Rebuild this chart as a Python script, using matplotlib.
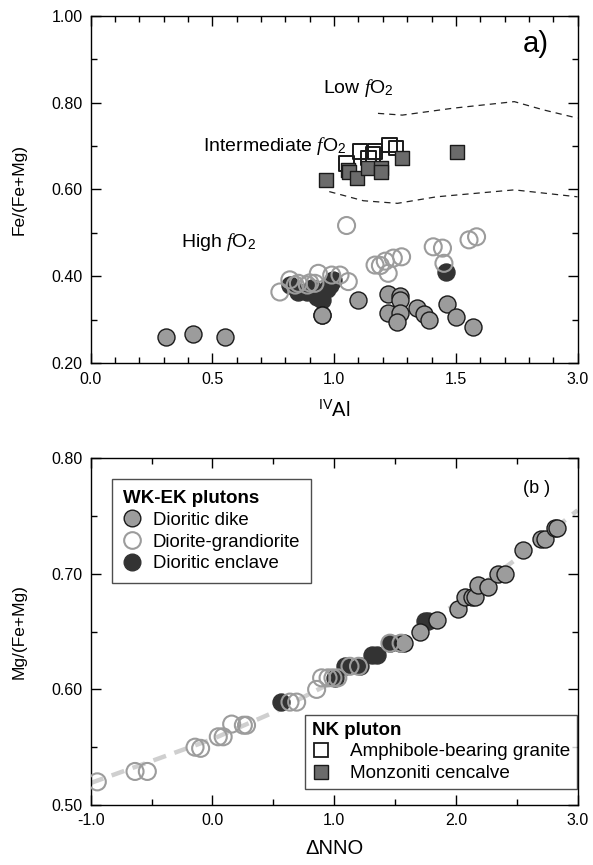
import numpy as np
import matplotlib
matplotlib.use("Agg")
import matplotlib.pyplot as plt
from matplotlib.lines import Line2D
from matplotlib.ticker import MultipleLocator, FixedLocator, FixedFormatter

plt.rcParams['font.family'] = ['Liberation Sans', 'DejaVu Sans']
plt.rcParams['axes.unicode_minus'] = False
plt.rcParams['mathtext.fontset'] = 'custom'
plt.rcParams['mathtext.rm'] = 'Liberation Sans'
plt.rcParams['mathtext.it'] = 'Liberation Serif:italic'

# ---- panel a : IVAl vs Fe/(Fe+Mg) ----
# Diorite dike (grey filled)
dike_al = [0.31, 0.42, 0.55, 0.95, 0.951, 1.10, 1.22, 1.27, 1.27, 1.22, 1.27, 1.26,
           1.34, 1.37, 1.39, 1.465, 1.50, 1.57]
dike_fe = [0.260, 0.267, 0.260, 0.311, 0.311, 0.346, 0.360, 0.355, 0.345, 0.315, 0.315, 0.296,
           0.327, 0.313, 0.300, 0.336, 0.306, 0.283]
# Diorite-granodiorite (open grey)
dgr_al = [0.777, 0.818, 0.84, 0.853, 0.89, 0.90, 0.921, 0.935, 0.99, 1.024, 1.058, 1.051,
          1.168, 1.19, 1.21, 1.222, 1.243, 1.277, 1.407, 1.445, 1.451, 1.554, 1.585]
dgr_fe = [0.364, 0.392, 0.38, 0.384, 0.38, 0.385, 0.384, 0.407, 0.403, 0.403, 0.388, 0.517,
          0.426, 0.425, 0.435, 0.407, 0.442, 0.445, 0.468, 0.465, 0.430, 0.484, 0.491]
# Dioritic enclave (dark filled)
enc_al = [0.818, 0.853, 0.887, 0.908, 0.928, 0.949, 0.97, 0.983, 0.996, 1.459]
enc_fe = [0.380, 0.365, 0.363, 0.373, 0.353, 0.346, 0.370, 0.380, 0.392, 0.411]
# Amphibole-bearing granite (open squares)
amp_al = [1.051, 1.106, 1.140, 1.168, 1.160, 1.227, 1.254]
amp_fe = [0.660, 0.687, 0.672, 0.687, 0.680, 0.702, 0.695]
# Monzonitic enclave (dark grey squares)
mon_al = [0.966, 1.058, 1.06, 1.092, 1.140, 1.192, 1.192, 1.277, 1.503]
mon_fe = [0.622, 0.645, 0.640, 0.626, 0.649, 0.649, 0.640, 0.672, 0.687]

# fO2 boundary curves
upper_x = [1.18, 1.28, 1.49, 1.74, 1.86, 2.0]
upper_y = [0.775, 0.771, 0.787, 0.802, 0.783, 0.764]
lower_x = [0.98, 1.12, 1.26, 1.42, 1.74, 2.0]
lower_y = [0.595, 0.574, 0.568, 0.583, 0.599, 0.583]

# ---- panel b : dNNO vs Mg/(Fe+Mg) ----
b_dgr_x = [-0.946, -0.636, -0.535, -0.143, -0.097, 0.048, 0.088, 0.158, 0.254, 0.28,
           0.637, 0.692, 0.856, 0.897, 0.95, 0.99, 1.03, 1.13, 1.2, 1.458, 1.55]
b_dgr_y = [0.520, 0.529, 0.529, 0.550, 0.549, 0.559, 0.559, 0.570, 0.569, 0.569,
           0.589, 0.589, 0.600, 0.610, 0.610, 0.610, 0.610, 0.620, 0.620, 0.640, 0.640]
b_enc_x = [0.561, 1.007, 1.089, 1.21, 1.308, 1.35, 1.458, 1.54, 1.746, 1.775]
b_enc_y = [0.589, 0.610, 0.620, 0.620, 0.630, 0.630, 0.640, 0.640, 0.659, 0.659]
b_dike_x = [1.57, 1.705, 1.842, 2.02, 2.074, 2.13, 2.16, 2.18, 2.266, 2.348, 2.40,
            2.553, 2.70, 2.73, 2.814, 2.83]
b_dike_y = [0.640, 0.650, 0.660, 0.670, 0.680, 0.680, 0.680, 0.690, 0.689, 0.700, 0.700,
            0.721, 0.730, 0.730, 0.740, 0.740]

curve_x = [-1.0, 0.0, 0.5, 1.0, 1.5, 2.0, 2.5, 3.0]
curve_y = [0.519, 0.557, 0.580, 0.607, 0.638, 0.674, 0.713, 0.755]

GREY = '#9c9c9c'
DARK = '#333333'
SQ = '#6b6b6b'
EDGE = '#1a1a1a'

fig = plt.figure(figsize=(5.93, 8.65), dpi=100)
ax1 = fig.add_axes([0.153, 0.580, 0.821, 0.402])
ax2 = fig.add_axes([0.153, 0.0694, 0.821, 0.4008])

s_c = 150
s_s = 110

# panel a
ax1.plot(upper_x, upper_y, ls=(0, (5, 4)), color='#222222', lw=0.9)
ax1.plot(lower_x, lower_y, ls=(0, (5, 4)), color='#222222', lw=0.9)
ax1.scatter(enc_al, enc_fe, s=s_c, c=DARK, edgecolors=DARK, lw=1.0, zorder=3)
ax1.scatter(dike_al, dike_fe, s=s_c, c=GREY, edgecolors=EDGE, lw=1.0, zorder=3)
ax1.scatter(dgr_al, dgr_fe, s=s_c, facecolors='none', edgecolors=GREY, lw=1.5, zorder=4)
ax1.scatter(amp_al, amp_fe, s=s_s, marker='s', facecolors='none', edgecolors=EDGE, lw=1.4, zorder=3)
ax1.scatter(mon_al, mon_fe, s=s_s, marker='s', c=SQ, edgecolors=EDGE, lw=1.0, zorder=4)

ax1.set_xlim(0, 2.0)
ax1.set_ylim(0.2, 1.0)
ax1.xaxis.set_major_locator(FixedLocator([0, 0.5, 1.0, 1.5, 2.0]))
ax1.xaxis.set_major_formatter(FixedFormatter(['0.0', '0.5', '1.0', '1.5', '3.0']))
ax1.xaxis.set_minor_locator(MultipleLocator(0.1))
ax1.yaxis.set_major_locator(MultipleLocator(0.2))
ax1.yaxis.set_minor_locator(MultipleLocator(0.1))
ax1.yaxis.set_major_formatter(plt.FormatStrFormatter('%.2f'))
ax1.set_xlabel(r'$^{\mathrm{IV}}$Al', fontsize=14.5, labelpad=9)
ax1.set_ylabel('Fe/(Fe+Mg)', fontsize=12.5, labelpad=18)

ax1.text(1.83, 0.935, 'a)', fontsize=21, ha='center', va='center')
ax1.text(0.955, 0.834, r'Low $f$O$_2$', fontsize=14, ha='left', va='center')
ax1.text(0.46, 0.700, r'Intermediate $f$O$_2$', fontsize=14, ha='left', va='center')
ax1.text(0.37, 0.480, r'High $f$O$_2$', fontsize=14, ha='left', va='center')

# panel b
ax2.plot(curve_x, curve_y, ls=(0, (3, 2)), color='#cfcfcf', lw=3.2, zorder=1)
ax2.scatter(b_enc_x, b_enc_y, s=s_c, c=DARK, edgecolors=DARK, lw=1.0, zorder=3)
ax2.scatter(b_dike_x, b_dike_y, s=s_c, c=GREY, edgecolors=EDGE, lw=1.0, zorder=3)
ax2.scatter(b_dgr_x, b_dgr_y, s=s_c, facecolors='none', edgecolors=GREY, lw=1.5, zorder=4)

ax2.set_xlim(-1.0, 3.0)
ax2.set_ylim(0.5, 0.8)
ax2.xaxis.set_major_locator(MultipleLocator(1.0))
ax2.xaxis.set_minor_locator(MultipleLocator(0.5))
ax2.xaxis.set_major_formatter(plt.FormatStrFormatter('%.1f'))
ax2.yaxis.set_major_locator(MultipleLocator(0.1))
ax2.yaxis.set_minor_locator(MultipleLocator(0.05))
ax2.yaxis.set_major_formatter(plt.FormatStrFormatter('%.2f'))
ax2.set_xlabel('\u0394NNO', fontsize=14.5, labelpad=8)
ax2.set_ylabel('Mg/(Fe+Mg)', fontsize=12.5, labelpad=18)
ax2.text(2.66, 0.774, '(b )', fontsize=13, ha='center', va='center')

for ax in (ax1, ax2):
    ax.tick_params(which='both', direction='in', top=True, right=True, labelsize=11.5, width=1.0)
    ax.tick_params(which='major', length=7, pad=6)
    ax.tick_params(which='minor', length=4.5)
    for sp in ax.spines.values():
        sp.set_linewidth(1.0)

h1 = [Line2D([], [], ls='', marker='o', ms=12, mfc=GREY, mec=EDGE, mew=1.0),
      Line2D([], [], ls='', marker='o', ms=12, mfc='none', mec=GREY, mew=1.5),
      Line2D([], [], ls='', marker='o', ms=12, mfc=DARK, mec=DARK)]
leg1 = ax2.legend(h1, ['Dioritic dike', 'Diorite-grandiorite', 'Dioritic enclave'],
                  title='WK-EK plutons', title_fontproperties={'weight': 'bold', 'size': 13.5},
                  alignment='left', loc='upper left', bbox_to_anchor=(0.043, 0.94),
                  fontsize=13.4, frameon=True, fancybox=False, edgecolor='#222222',
                  handlelength=1.0, handletextpad=0.6, labelspacing=0.25, borderpad=0.6,
                  borderaxespad=0)
leg1.get_frame().set_linewidth(1.0)
ax2.add_artist(leg1)

h2 = [Line2D([], [], ls='', marker='s', ms=10, mfc='none', mec=EDGE, mew=1.3),
      Line2D([], [], ls='', marker='s', ms=10, mfc=SQ, mec=EDGE, mew=1.0)]
leg2 = ax2.legend(h2, ['Amphibole-bearing granite', 'Monzoniti cencalve'],
                  title='NK pluton', title_fontproperties={'weight': 'bold', 'size': 13.5},
                  alignment='left', loc='lower right', bbox_to_anchor=(0.998, 0.046),
                  fontsize=13.6, frameon=True, fancybox=False, edgecolor='#222222',
                  handlelength=1.0, handletextpad=1.0, labelspacing=0.25, borderpad=0.35,
                  borderaxespad=0)
leg2.get_frame().set_linewidth(1.0)

fig.savefig('out.png', dpi=100)
